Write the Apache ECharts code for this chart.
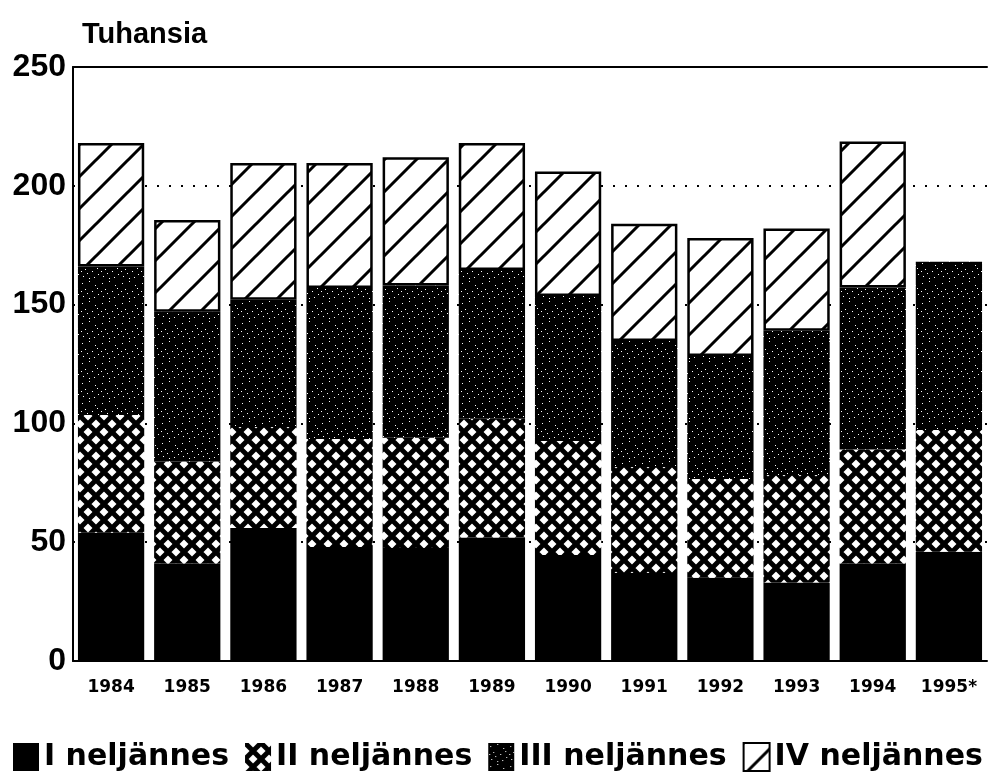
<!DOCTYPE html>
<html>
<head>
<meta charset="UTF-8">
<title>Tuhansia</title>
<script src="https://cdn.jsdelivr.net/npm/echarts@6/dist/echarts.min.js"></script>
<style>
  html, body { margin: 0; padding: 0; background: #fff; }
  #main { width: 989px; height: 775px; }
</style>
</head>
<body>
<div id="main"></div>
<script>
// vuodet
var years = ['1984', '1985', '1986', '1987', '1988', '1989', '1990', '1991', '1992', '1993', '1994', '1995*'];
// neljännekset (tuhansia)
var q1 = [54, 41, 56, 48, 47.6, 52, 44.6, 37, 35, 33, 41, 46];
var q2 = [49.5, 43, 42.5, 45.4, 46.4, 50, 48, 44.6, 41.6, 45.3, 48, 51.2];
var q3 = [62.5, 63, 53.5, 63.6, 64, 62.6, 61, 53.1, 51.8, 60.7, 68.2, 70.8];
var q4 = [52, 38.6, 57.6, 52.6, 54, 53.4, 52.4, 49.3, 49.6, 43, 61.4, null];
var names = ['I neljännes', 'II neljännes', 'III neljännes', 'IV neljännes'];
var yTicks = [0, 50, 100, 150, 200, 250];

var FONT = '"Liberation Sans", Arial, sans-serif';
var WIDE = '"DejaVu Sans", sans-serif';

// kuviot
function makeCanvas(w, h) {
  var c = document.createElement('canvas');
  c.width = w; c.height = h;
  return c;
}

function crossPattern() {
  var s = 16;
  var c = makeCanvas(s, s);
  var ctx = c.getContext('2d');
  ctx.fillStyle = '#fff';
  ctx.fillRect(0, 0, s, s);
  ctx.strokeStyle = '#000';
  ctx.lineWidth = 5;
  ctx.beginPath();
  ctx.moveTo(-2, -2); ctx.lineTo(s + 2, s + 2);
  ctx.moveTo(s + 2, -2); ctx.lineTo(-2, s + 2);
  ctx.stroke();
  return c;
}

function speckPattern() {
  var s = 20;
  var c = makeCanvas(s, s);
  var ctx = c.getContext('2d');
  ctx.fillStyle = '#000';
  ctx.fillRect(0, 0, s, s);
  ctx.fillStyle = '#fff';
  var dots = [[2, 3], [9, 1], [15, 5], [5, 9], [12, 11], [18, 14], [3, 16], [9, 18], [14, 17], [7, 13], [17, 8], [1, 11]];
  dots.forEach(function (d) { ctx.fillRect(d[0], d[1], 1, 1); });
  return c;
}

function hatchPattern() {
  var s = 32;
  var c = makeCanvas(s, s);
  var ctx = c.getContext('2d');
  ctx.fillStyle = '#fff';
  ctx.fillRect(0, 0, s, s);
  ctx.strokeStyle = '#000';
  ctx.lineWidth = 3;
  ctx.beginPath();
  ctx.moveTo(-2, s + 2); ctx.lineTo(s + 2, -2);
  ctx.moveTo(-2, 2); ctx.lineTo(2, -2);
  ctx.moveTo(s - 2, s + 2); ctx.lineTo(s + 2, s - 2);
  ctx.stroke();
  return c;
}

var colors = [
  '#000',
  { image: crossPattern(), repeat: 'repeat' },
  { image: speckPattern(), repeat: 'repeat' },
  { image: hatchPattern(), repeat: 'repeat' }
];

var chart = echarts.init(document.getElementById('main'));

function bar(i, data) {
  var s = {
    name: names[i],
    type: 'bar',
    stack: 'q',
    barWidth: '87%',
    data: data,
    itemStyle: { color: colors[i] }
  };
  if (i === 3) {
    s.itemStyle.borderColor = '#000';
    s.itemStyle.borderWidth = 2.5;
  }
  return s;
}

var option = {
  animation: false,
  backgroundColor: '#fff',
  title: {
    text: 'Tuhansia',
    left: 77,
    top: 15,
    textStyle: { fontFamily: FONT, fontSize: 29, fontWeight: 'bold', color: '#000' }
  },
  legend: {
    top: 737,
    left: 8,
    icon: 'rect',
    itemWidth: 26,
    itemHeight: 28,
    itemGap: 16,
    textStyle: { fontFamily: WIDE, fontSize: 30, fontWeight: 'bold', color: '#000' },
    data: names
  },
  grid: { left: 73, right: 2, top: 67, bottom: 114 },
  xAxis: [{
    type: 'category',
    data: years,
    axisLine: { lineStyle: { color: '#000', width: 2 } },
    axisTick: { show: false },
    axisLabel: { fontFamily: WIDE, fontSize: 17, fontWeight: 'bold', color: '#000', margin: 18 }
  }, {
    type: 'category',
    position: 'top',
    data: years,
    axisLine: { lineStyle: { color: '#000', width: 2 } },
    axisTick: { show: false },
    axisLabel: { show: false }
  }],
  yAxis: {
    type: 'value',
    min: yTicks[0],
    max: yTicks[yTicks.length - 1],
    interval: 50,
    axisLine: { show: true, lineStyle: { color: '#000', width: 2 } },
    axisTick: { show: false },
    axisLabel: { fontFamily: FONT, fontSize: 32, fontWeight: 'bold', color: '#000', margin: 7 },
    splitLine: { lineStyle: { color: '#000', width: 2, type: [2, 10] } }
  },
  series: [bar(0, q1), bar(1, q2), bar(2, q3), bar(3, q4)]
};

chart.setOption(option);
</script>
</body>
</html>
